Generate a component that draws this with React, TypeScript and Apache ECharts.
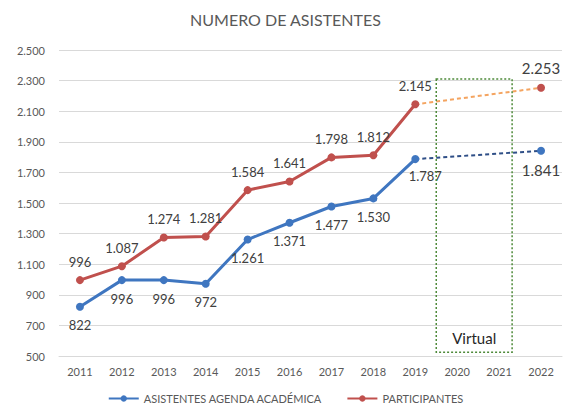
import React, { useEffect, useRef } from "react";
import * as echarts from "echarts";

const years = ["2011", "2012", "2013", "2014", "2015", "2016", "2017", "2018", "2019", "2020", "2021", "2022"];
const asistentes: (number | null)[] = [822, 996, 996, 972, 1261, 1371, 1477, 1530, 1787, null, null, 1841];
const participantes: (number | null)[] = [996, 1087, 1274, 1281, 1584, 1641, 1798, 1812, 2145, null, null, 2253];
const yTicks = { min: 500, max: 2500, interval: 200 };
const virtualLabel = "Virtual";

const fmt = (v: number) => String(Math.round(v)).replace(/\B(?=(\d{3})+(?!\d))/g, ".");

export default function App() {
  const ref = useRef<HTMLDivElement>(null);
  useEffect(() => {
    if (!ref.current) return;
    const chart = echarts.init(ref.current, undefined, { renderer: "svg" });
    const font = "Lato, 'Open Sans', sans-serif";
    const blue = "#3F76C0";
    const red = "#C0504D";
    const dashOf = (arr: (number | null)[]) =>
      arr.map((v, i) => (i >= 8 && v != null ? v : "-"));
    const labelStyle = { fontFamily: font, fontSize: 13, color: "#404040", formatter: (p: any) => fmt(p.value) };
    const redData = participantes.map((v, i) => {
      if (v == null) return "-";
      if (i === 11) return { value: v, label: { fontSize: 15 } };
      return v;
    });
    const blueData = asistentes.map((v, i) => {
      if (v == null) return "-";
      if (i === 8) return { value: v, label: { offset: [10, -2] } };
      if (i === 11) return { value: v, label: { fontSize: 15 } };
      return v;
    });
    chart.setOption({
      animation: false,
      backgroundColor: "#ffffff",
      title: {
        text: "NUMERO DE ASISTENTES",
        left: "center",
        top: 6,
        textStyle: { fontFamily: font, fontSize: 16, fontWeight: "normal", color: "#595959" },
      },
      grid: { left: 59, right: 9, top: 50, bottom: 53 },
      xAxis: {
        type: "category",
        data: years,
        boundaryGap: true,
        axisLine: { show: true, lineStyle: { color: "#d9d9d9" } },
        axisTick: { show: false },
        axisLabel: { fontFamily: font, fontSize: 11, color: "#595959", margin: 10 },
      },
      yAxis: {
        type: "value",
        min: yTicks.min,
        max: yTicks.max,
        interval: yTicks.interval,
        axisLabel: { fontFamily: font, fontSize: 11, color: "#595959", formatter: (v: number) => fmt(v), margin: 14 },
        splitLine: { lineStyle: { color: "#d9d9d9" } },
        axisLine: { show: false },
        axisTick: { show: false },
      },
      legend: {
        bottom: 0,
        left: "center",
        itemWidth: 30,
        itemHeight: 8,
        itemGap: 24,
        data: ["ASISTENTES AGENDA ACADÉMICA", "PARTICIPANTES"],
        textStyle: { fontFamily: font, fontSize: 11, color: "#595959" },
      },
      series: [
        {
          name: "ASISTENTES AGENDA ACADÉMICA",
          type: "line",
          data: blueData,
          connectNulls: false,
          symbol: "circle",
          symbolSize: 8,
          itemStyle: { color: blue },
          lineStyle: { color: blue, width: 3 },
          label: { show: true, position: "bottom", distance: 8, ...labelStyle },
          z: 3,
        },
        {
          name: "PARTICIPANTES",
          type: "line",
          data: redData,
          connectNulls: false,
          symbol: "circle",
          symbolSize: 8,
          itemStyle: { color: red },
          lineStyle: { color: red, width: 3 },
          label: { show: true, position: "top", distance: 8, ...labelStyle },
          z: 3,
        },
        {
          name: "blueDash",
          type: "line",
          data: dashOf(asistentes),
          connectNulls: true,
          showSymbol: false,
          symbol: "none",
          lineStyle: { color: "#2F4F87", width: 2, type: [4, 3] },
          silent: true,
          z: 2,
        },
        {
          name: "redDash",
          type: "line",
          data: dashOf(participantes),
          connectNulls: true,
          showSymbol: false,
          symbol: "none",
          lineStyle: { color: "#F4A460", width: 2, type: [4, 3] },
          silent: true,
          z: 2,
        },
      ],
    });
    const c20 = chart.convertToPixel({ xAxisIndex: 0 }, "2020") as number;
    const c21 = chart.convertToPixel({ xAxisIndex: 0 }, "2021") as number;
    const band = c21 - c20;
    const x0 = c20 - band * 0.5;
    const x1 = c21 + band * 0.31;
    const y0 = chart.convertToPixel({ yAxisIndex: 0 }, 2310) as number;
    const y1 = chart.convertToPixel({ yAxisIndex: 0 }, 525) as number;
    chart.setOption({
      graphic: [
        {
          type: "rect",
          shape: { x: x0, y: y0, width: x1 - x0, height: y1 - y0 },
          style: { fill: "transparent", stroke: "#4E8A3A", lineWidth: 1.5, lineDash: [2, 2] },
          z: 10,
        },
        {
          type: "text",
          x: (x0 + x1) / 2,
          y: y1 - 7,
          style: {
            text: virtualLabel,
            fontFamily: font,
            fontSize: 15,
            fill: "#262626",
            textAlign: "center",
            textVerticalAlign: "bottom",
          },
          z: 10,
        },
      ],
    });
    return () => chart.dispose();
  }, []);
  return <div ref={ref} style={{ width: 571, height: 409, position: "absolute", left: 0, top: 0 }} />;
}
